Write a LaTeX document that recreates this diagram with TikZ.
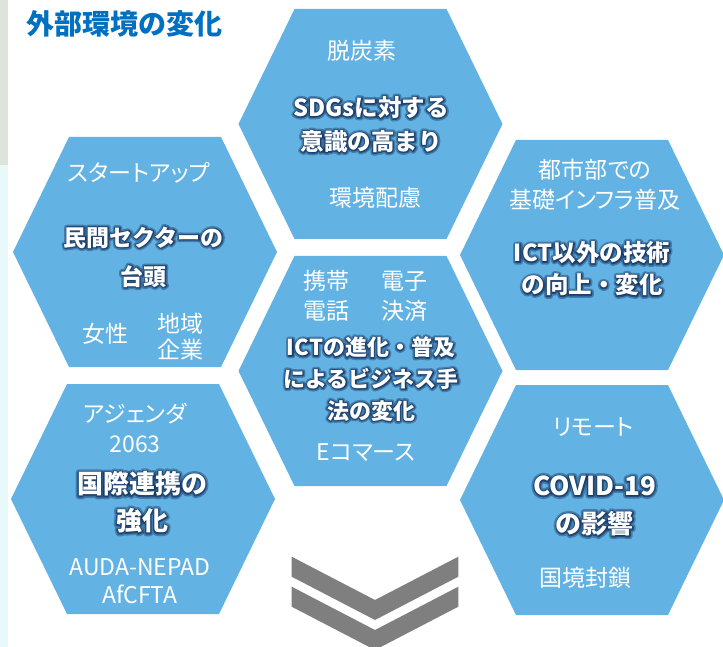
\documentclass[tikz,border=0pt]{standalone}
\usepackage{fontspec}
\setmainfont{Noto Sans CJK JP}
\newfontfamily\subfont{Noto Sans CJK JP}[RawFeature=+palt]
\newfontfamily\glowwide{Noto Sans CJK JP}[BoldFeatures={FakeBold=24}]
\newfontfamily\glownarrow{Noto Sans CJK JP}[BoldFeatures={FakeBold=11}]
\usetikzlibrary{calc}
\definecolor{hexblue}{RGB}{98,178,227}
\definecolor{titleblue}{RGB}{0,112,192}
\definecolor{chevgrey}{RGB}{127,127,127}
\definecolor{glowc}{RGB}{18,48,92}
\definecolor{stripA}{RGB}{221,229,218}
\definecolor{stripB}{RGB}{232,249,251}
\tikzset{
  hexcell/.style={fill=hexblue},
  chevron/.style={fill=chevgrey},
  sublbl/.style={text=white, align=center, inner sep=0pt, font={\subfont\fontsize{23}{#1}\selectfont}},
  sublbl/.default=30,
  glowcopy/.style={text=glowc, align=center, inner sep=0pt, line join=round, line cap=round},
  mainstyle/.style={text=white, align=center, inner sep=0pt},
  titlestyle/.style={text=titleblue, inner sep=0pt, font={\bfseries\fontsize{28}{32}\selectfont}}
}
\newcommand\hexat[2]{%
  \fill[hexcell, shift={(#1,#2)}] (-132,0) -- (-76,-115) -- (76,-115) -- (132,0) -- (76,115) -- (-76,115) -- cycle;
}
\newcommand\mainlbl[5]{%
  \node[glowcopy, opacity=0.4, font={\pgfsetroundjoin\glowwide\bfseries\fontsize{#3}{#4}\selectfont}] at #2 {#5};
  \node[glowcopy, opacity=0.65, font={\pgfsetroundjoin\glownarrow\bfseries\fontsize{#3}{#4}\selectfont}] at #2 {#5};
  \node[mainstyle, font={\bfseries\fontsize{#3}{#4}\selectfont}] (#1) at #2 {#5};
}
\begin{document}
\begin{tikzpicture}[x=1pt,y=-1pt]
\useasboundingbox (0,0) rectangle (723,647);
\fill[white] (0,0) rectangle (723,647);
\fill[stripB] (0,0) rectangle (7.5,647);
\fill[stripA] (0,0) rectangle (7.5,165);

% hexagons
\hexat{370.5}{124}
\hexat{145}{252}
\hexat{592}{255}
\hexat{370.5}{371}
\hexat{143}{499}
\hexat{592}{500}

% chevrons
\fill[chevron] (291.7,556.7) -- (375,600) -- (458.3,556.7) -- (458.3,576.7) -- (375,620) -- (291.7,576.7) -- cycle;
\fill[chevron] (291.7,586.7) -- (375,630) -- (458.3,586.7) -- (458.3,606.7) -- (375,650) -- (291.7,606.7) -- cycle;

% title
\node[titlestyle] (title) at (124.5,23.5) {外部環境の変化};

% top hexagon
\node[sublbl] (t1) at (362,51) {脱炭素};
\mainlbl{tmain}{(371,124.6)}{23.5}{34}{SDGsに対する\\意識の高まり}
\node[sublbl] (t2) at (375,197.5) {環境配慮};

% top-left hexagon
\node[sublbl] (l1) at (139,173.3) {スタートアップ};
\mainlbl{lmain}{(143.5,257)}{23}{39}{民間セクターの\\台頭}
\node[sublbl] (l2) at (105.5,334) {女性};
\node[sublbl=26] (l3) at (180,337) {地域\\企業};

% top-right hexagon
\node[sublbl=30] (r1) at (595,185) {都市部での\\基礎インフラ普及};
\mainlbl{rmain}{(592,269)}{23.5}{32}{ICT以外の技術\\の向上・変化}

% middle hexagon
\node[sublbl=30] (m1) at (326,296) {携帯\\電話};
\node[sublbl=30] (m2) at (404,296) {電子\\決済};
\mainlbl{mmain}{(371,379)}{22}{31.7}{ICTの進化・普及\\によるビジネス手\\法の変化}
\node[sublbl] (m3) at (366,452.5) {Eコマース};

% bottom-left hexagon
\node[sublbl=30] (b1) at (135,428) {アジェンダ\\2063};
\mainlbl{bmain}{(142,502.4)}{26}{37}{国際連携の\\強化}
\node[sublbl=28.5] (b2) at (140,581) {AUDA-NEPAD\\AfCFTA};

% bottom-right hexagon
\node[sublbl] (c1) at (593.5,426.7) {リモート};
\mainlbl{cmain}{(594.5,506)}{26}{38}{COVID-19\\の影響}
\node[sublbl] (c2) at (585,577.5) {国境封鎖};
\end{tikzpicture}
\end{document}
